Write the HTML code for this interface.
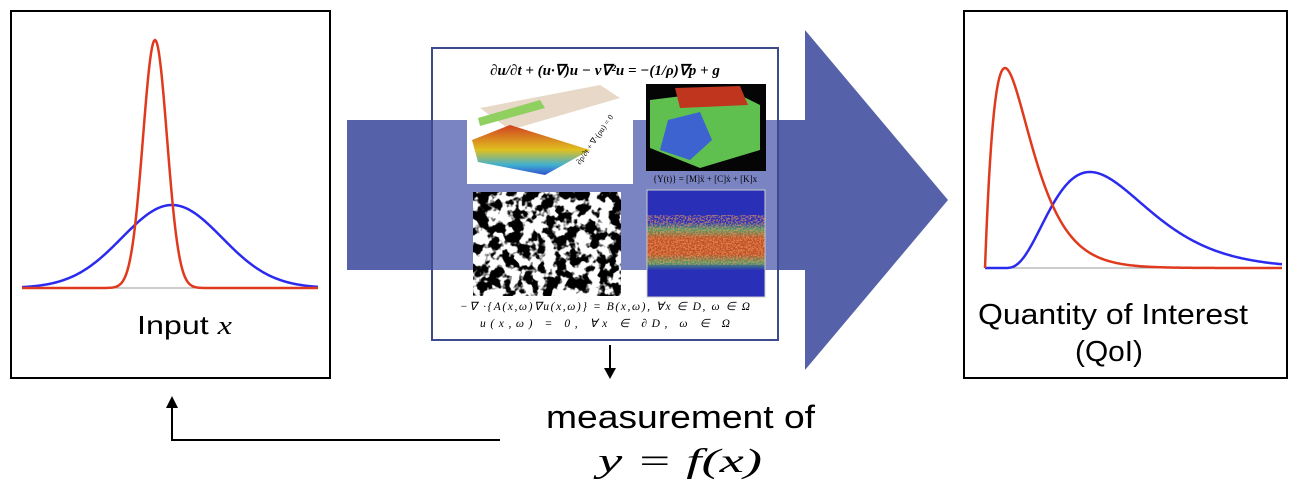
<!DOCTYPE html>
<html><head><meta charset="utf-8"><style>
html,body{margin:0;padding:0;background:#fff;}
svg{display:block;font-family:"Liberation Sans",sans-serif;}
</style></head><body>
<svg id="s" width="1297" height="496" viewBox="0 0 1297 496">
<defs>
<filter id="blob" x="0" y="0" width="100%" height="100%">
<feTurbulence type="fractalNoise" baseFrequency="0.09" numOctaves="3" seed="4"/>
<feColorMatrix type="matrix" values="0 0 0 0 0  0 0 0 0 0  0 0 0 0 0  -9 0 0 0 5"/>
</filter>
<filter id="speck" x="0" y="0" width="100%" height="100%">
<feTurbulence type="fractalNoise" baseFrequency="0.6" numOctaves="2" seed="2"/>
<feColorMatrix type="matrix" values="0 0 0 0 0.9  0 0 0 0 0.35  0 0 0 0 0.1  6 0 0 0 -2.6"/>
</filter>
<linearGradient id="band" x1="0" y1="0" x2="0" y2="1">
<stop offset="0" stop-color="#2a2fb8"/><stop offset="0.3" stop-color="#2a2fb8"/>
<stop offset="0.37" stop-color="#4f9a6a"/><stop offset="0.45" stop-color="#c0502a"/>
<stop offset="0.6" stop-color="#c0502a"/><stop offset="0.68" stop-color="#4f9a6a"/>
<stop offset="0.75" stop-color="#2a2fb8"/><stop offset="1" stop-color="#2a2fb8"/>
</linearGradient>
<linearGradient id="wave" x1="0" y1="0" x2="0" y2="1">
<stop offset="0" stop-color="#d04020"/><stop offset="0.5" stop-color="#e0c020"/>
<stop offset="0.8" stop-color="#40b0d0"/><stop offset="1" stop-color="#3050d0"/>
</linearGradient>
</defs>

<g>
<rect x="347" y="120" width="460" height="150" fill="#5561a8"/>
<polygon points="805,30 948,200 805,370" fill="#5561a8"/>
</g>

<g>
<rect x="432" y="48" width="346" height="292" fill="#fff" stroke="#3d4a8c" stroke-width="2"/>
<rect x="433" y="120" width="344" height="150" fill="#7b84c2"/>
<text x="605" y="75" text-anchor="middle" font-family="Liberation Serif,serif" font-size="15" font-weight="bold" font-style="italic">∂u/∂t + (u·∇)u − ν∇²u = −(1/ρ)∇p + g</text>
<g>
<rect x="467" y="85" width="166" height="99" fill="#fff"/>
<polygon points="480,108 600,85 620,98 510,130" fill="#e8d8c8"/>
<polygon points="478,118 540,100 545,108 480,126" fill="#90d060"/>
<polygon points="472,140 510,125 590,150 545,175 478,162" fill="url(#wave)"/>
<text x="580" y="165" font-size="8" font-family="Liberation Serif,serif" transform="rotate(-55 580 165)">∂ρ/∂t + ∇·(ρu) = 0</text>
</g>
<g>
<rect x="646" y="84" width="120" height="87" fill="#050505"/>
<polygon points="650,100 730,90 760,105 760,150 700,168 650,148" fill="#5fbf4f"/>
<polygon points="675,88 740,86 748,105 680,108" fill="#c0351e"/>
<polygon points="668,120 700,112 712,140 690,160 660,150" fill="#3c63d0"/>
</g>
<text x="705" y="182" text-anchor="middle" font-family="Liberation Serif,serif" font-size="9">{Y(t)} = [M]ẍ + [C]ẋ + [K]x</text>
<g>
<rect x="473" y="192" width="148" height="104" fill="#fff"/>
<rect x="473" y="192" width="148" height="104" filter="url(#blob)"/>
</g>
<g>
<rect x="647" y="190" width="118" height="107" fill="url(#band)" stroke="#ccc"/>
<rect x="647" y="215" width="118" height="50" filter="url(#speck)" opacity="0.6"/>
</g>
<text x="605" y="310" text-anchor="middle" font-family="Liberation Serif,serif" font-size="11.5" font-style="italic" textLength="290" lengthAdjust="spacing">−∇ ·{A(x,ω)∇u(x,ω)} = B(x,ω),    ∀x ∈ D, ω ∈ Ω</text>
<text x="605" y="327" text-anchor="middle" font-family="Liberation Serif,serif" font-size="11.5" font-style="italic" textLength="250" lengthAdjust="spacing">u(x,ω) = 0,      ∀x ∈ ∂D, ω ∈ Ω</text>
</g>

<g>
<rect x="11" y="11" width="319" height="367" fill="#fff" stroke="#000" stroke-width="2"/>
<line x1="22" y1="288" x2="318" y2="288" stroke="#999" stroke-width="1"/>
<path id="inBlue" fill="none" stroke="#2b2bf0" stroke-width="2.5"/>
<path id="inRed" fill="none" stroke="#e03a1e" stroke-width="2.5"/>
<text x="137" y="334" font-size="26" textLength="95" lengthAdjust="spacingAndGlyphs">Input <tspan font-family="Liberation Serif,serif" font-style="italic">x</tspan></text>
</g>

<g>
<rect x="964" y="11" width="323" height="367" fill="#fff" stroke="#000" stroke-width="2"/>
<line x1="985" y1="268" x2="1282" y2="268" stroke="#999" stroke-width="1"/>
<path id="outBlue" fill="none" stroke="#2b2bf0" stroke-width="2.5"/>
<path id="outRed" fill="none" stroke="#e03a1e" stroke-width="2.5"/>
<text x="978" y="324" font-size="29" textLength="270" lengthAdjust="spacingAndGlyphs">Quantity of Interest</text>
<text x="1075" y="361" font-size="29" textLength="68" lengthAdjust="spacingAndGlyphs">(QoI)</text>
</g>

<g>
<line x1="610" y1="345" x2="610" y2="372" stroke="#000" stroke-width="2"/>
<polygon points="604,368 616,368 610,379" fill="#000"/>
</g>
<text x="546" y="428" font-size="32" textLength="269" lengthAdjust="spacingAndGlyphs">measurement of</text>
<text x="598" y="472" font-size="34" font-family="Liberation Serif,serif" font-style="italic" textLength="164" lengthAdjust="spacingAndGlyphs">y = f(x)</text>

<g>
<polyline points="500,440 172,440 172,404" fill="none" stroke="#000" stroke-width="2"/>
<polygon points="166,408 178,408 172,396" fill="#000"/>
</g>
</svg>
<script>
const inCenters=[155,172];
const inSigmas=[12,50];
const inPeaks=[248,83];
const outShapeK=[2,4];
const outScale=[20,28.3];
const outStart=[985,1005];
const outPeaks=[200,96];
function gaussPath(c,s,h,base,x0,x1){let d='';for(let x=x0;x<=x1;x+=1){const y=base-h*Math.exp(-((x-c)**2)/(2*s*s));d+=(x===x0?'M':'L')+x+','+y.toFixed(2);}return d;}
function gammaPath(st,k,t,h,base,x0,x1){const mode=(k-1)*t;const norm=Math.pow(mode,k-1)*Math.exp(-mode/t);let d='';for(let x=x0;x<=x1;x+=1){const u=Math.max(0,x-st);const v=Math.pow(u,k-1)*Math.exp(-u/t)/norm;d+=(x===x0?'M':'L')+x+','+(base-h*v).toFixed(2);}return d;}
document.getElementById('inRed').setAttribute('d',gaussPath(inCenters[0],inSigmas[0],inPeaks[0],288,22,318));
document.getElementById('inBlue').setAttribute('d',gaussPath(inCenters[1],inSigmas[1],inPeaks[1],288,22,318));
document.getElementById('outRed').setAttribute('d',gammaPath(outStart[0],outShapeK[0],outScale[0],outPeaks[0],268,985,1282));
document.getElementById('outBlue').setAttribute('d',gammaPath(outStart[1],outShapeK[1],outScale[1],outPeaks[1],268,985,1282));
</script>
</body></html>
